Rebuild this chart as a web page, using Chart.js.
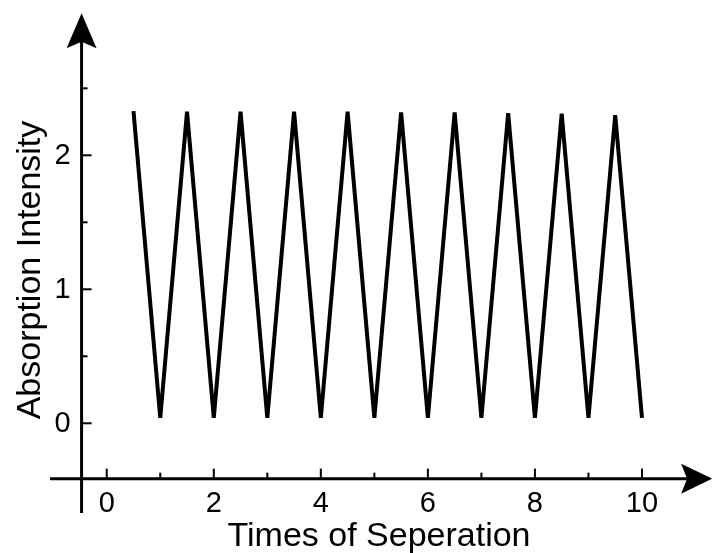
<!DOCTYPE html>
<html>
<head>
<meta charset="utf-8">
<script src="https://cdn.jsdelivr.net/npm/chart.js@4/dist/chart.umd.min.js"></script>
<style>
html,body{margin:0;padding:0;background:#fff;}
#wrap{width:712px;height:553px;position:relative;}
</style>
</head>
<body>
<div id="wrap"><canvas id="c"></canvas></div>
<script>
// ---- data ----
const xValues = [0.5,1,1.5,2,2.5,3,3.5,4,4.5,5,5.5,6,6.5,7,7.5,8,8.5,9,9.5,10];
const yValues = [2.33,0.04,2.325,0.04,2.325,0.04,2.325,0.04,2.325,0.04,2.32,0.04,2.32,0.04,2.315,0.04,2.31,0.04,2.30,0.04];
const xMajorTicks = [0,2,4,6,8,10];
const xMinorTicks = [1,3,5,7,9];
const yMajorTicks = [0,1,2];
const yMinorTicks = [0.5,1.5,2.5];
const xTitle = 'Times of Seperation';
const yTitle = 'Absorption Intensity';

// axis placement (data units)
const xAxisAtY = -0.413;
const yAxisAtX = -0.47;
const xAxisStart = -1.06;
const xAxisEnd = 11.31;
const yAxisStart = -0.669;
const yAxisEnd = 3.06;

const FONT = '"Liberation Sans", Arial, sans-serif';

const axesPlugin = {
  id: 'customAxes',
  afterDatasetsDraw(chart) {
    const ctx = chart.ctx;
    const xs = chart.scales.x, ys = chart.scales.y;
    const ax = xs.getPixelForValue(yAxisAtX);
    const ay = ys.getPixelForValue(xAxisAtY);
    ctx.save();
    ctx.strokeStyle = '#000';
    ctx.fillStyle = '#000';
    ctx.lineWidth = 3;
    ctx.lineCap = 'butt';
    // x axis line
    const xl = xs.getPixelForValue(xAxisStart), xr = xs.getPixelForValue(xAxisEnd);
    ctx.beginPath(); ctx.moveTo(xl, ay); ctx.lineTo(xr - 20, ay); ctx.stroke();
    // y axis line
    const yb = ys.getPixelForValue(yAxisStart), yt = ys.getPixelForValue(yAxisEnd);
    ctx.beginPath(); ctx.moveTo(ax, yb); ctx.lineTo(ax, yt + 20); ctx.stroke();
    // arrows
    ctx.beginPath();
    ctx.moveTo(ax, yt);
    ctx.lineTo(ax - 15, yt + 35);
    ctx.lineTo(ax, yt + 28.5);
    ctx.lineTo(ax + 15, yt + 35);
    ctx.closePath(); ctx.fill();
    ctx.beginPath();
    ctx.moveTo(xr, ay);
    ctx.lineTo(xr - 31, ay - 15);
    ctx.lineTo(xr - 25, ay);
    ctx.lineTo(xr - 31, ay + 15);
    ctx.closePath(); ctx.fill();
    // ticks
    ctx.lineWidth = 2;
    xMajorTicks.forEach(v => { const p = xs.getPixelForValue(v); ctx.beginPath(); ctx.moveTo(p, ay); ctx.lineTo(p, ay - 10); ctx.stroke(); });
    xMinorTicks.forEach(v => { const p = xs.getPixelForValue(v); ctx.beginPath(); ctx.moveTo(p, ay); ctx.lineTo(p, ay - 6); ctx.stroke(); });
    yMajorTicks.forEach(v => { const p = ys.getPixelForValue(v); ctx.beginPath(); ctx.moveTo(ax, p); ctx.lineTo(ax + 10, p); ctx.stroke(); });
    yMinorTicks.forEach(v => { const p = ys.getPixelForValue(v); ctx.beginPath(); ctx.moveTo(ax, p); ctx.lineTo(ax + 6, p); ctx.stroke(); });
    // tick labels
    ctx.font = '29px ' + FONT;
    ctx.textAlign = 'center';
    ctx.textBaseline = 'alphabetic';
    xMajorTicks.forEach(v => ctx.fillText(String(v), xs.getPixelForValue(v), ay + 33));
    ctx.textAlign = 'right';
    ctx.textBaseline = 'middle';
    yMajorTicks.forEach(v => ctx.fillText(String(v), ax - 11, ys.getPixelForValue(v) + 1));
    // titles
    ctx.font = '34px ' + FONT;
    ctx.textAlign = 'center';
    ctx.textBaseline = 'alphabetic';
    ctx.fillText(xTitle, 379, 546);
    ctx.translate(40, 270);
    ctx.rotate(-Math.PI / 2);
    ctx.fillText(yTitle, 0, 0);
    ctx.restore();
  }
};

new Chart(document.getElementById('c'), {
  type: 'line',
  data: {
    datasets: [{
      data: xValues.map((x, i) => ({ x: x, y: yValues[i] })),
      borderColor: '#000',
      borderWidth: 4,
      pointRadius: 0,
      tension: 0,
      fill: false
    }]
  },
  options: {
    responsive: true,
    maintainAspectRatio: false,
    animation: false,
    layout: { padding: 0 },
    plugins: { legend: { display: false }, tooltip: { enabled: false } },
    scales: {
      x: { type: 'linear', display: false, min: -1.994, max: 11.308 },
      y: { type: 'linear', display: false, min: -0.968, max: 3.159 }
    }
  },
  plugins: [axesPlugin]
});
</script>
</body>
</html>
